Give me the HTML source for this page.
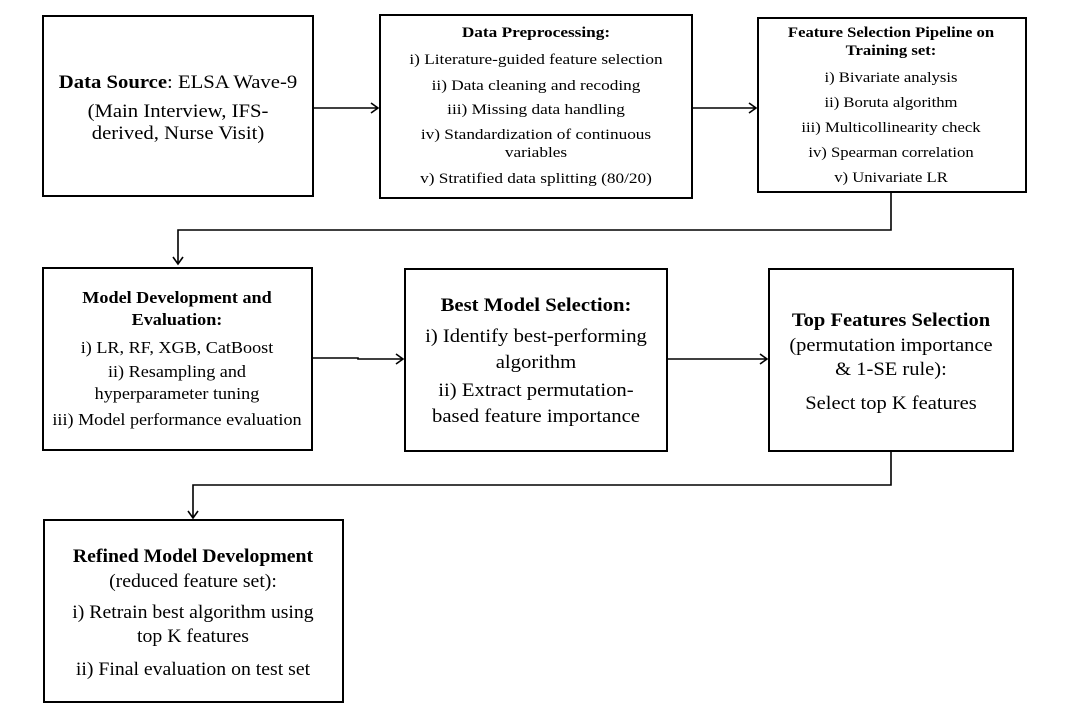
<!DOCTYPE html>
<html><head><meta charset="utf-8"><style>
html,body{margin:0;padding:0;background:#fff;}
svg{display:block;}
text{font-family:"Liberation Serif",serif;fill:#000;text-anchor:middle;}
.b{font-weight:bold;}
</style></head><body>
<svg width="1085" height="720" viewBox="0 0 1085 720" xmlns="http://www.w3.org/2000/svg">
<g fill="none" stroke="#000" stroke-width="2">
<rect x="43" y="16" width="270" height="180"/>
<rect x="380" y="15" width="312" height="183"/>
<rect x="758" y="18" width="268" height="174"/>
<rect x="43" y="268" width="269" height="182"/>
<rect x="405" y="269" width="262" height="182"/>
<rect x="769" y="269" width="244" height="182"/>
<rect x="44" y="520" width="299" height="182"/>
</g>
<g fill="none" stroke="#000" stroke-width="1.6">
<path d="M313 108 H377 M371 103 L378 108 L371 113"/>
<path d="M692 108 H755 M749 103 L756 108 L749 113"/>
<path d="M891 192 V230 H178 V263 M173 257 L178 264 L183 257"/>
<path d="M312 358 H358 V359 H402 M396 354 L403 359 L396 364"/>
<path d="M667 359 H766 M760 354 L767 359 L760 364"/>
<path d="M891 451 V485 H193 V517 M188 511 L193 518 L198 511"/>
</g>
<g transform="translate(178,0) scale(1.09,1) translate(-178,0)" font-size="19">
<text x="178" y="88"><tspan class="b">Data Source</tspan>: ELSA Wave-9</text>
<text x="178" y="117">(Main Interview, IFS-</text>
<text x="178" y="139">derived, Nurse Visit)</text>
</g>

<g transform="translate(536,0) scale(1.15,1) translate(-536,0)" font-size="15">
<text x="536" y="37" class="b">Data Preprocessing:</text>
<text x="536" y="64">i) Literature-guided feature selection</text>
<text x="536" y="90">ii) Data cleaning and recoding</text>
<text x="536" y="114">iii) Missing data handling</text>
<text x="536" y="139">iv) Standardization of continuous</text>
<text x="536" y="157">variables</text>
<text x="536" y="183">v) Stratified data splitting (80/20)</text>
</g>
<g transform="translate(891,0) scale(1.11,1) translate(-891,0)" font-size="15">
<text x="891" y="37" class="b">Feature Selection Pipeline on</text>
<text x="891" y="55" class="b">Training set:</text>
<text x="891" y="82">i) Bivariate analysis</text>
<text x="891" y="107">ii) Boruta algorithm</text>
<text x="891" y="132">iii) Multicollinearity check</text>
<text x="891" y="157">iv) Spearman correlation</text>
<text x="891" y="182">v) Univariate LR</text>
</g>

<g transform="translate(177,0) scale(1.1,1) translate(-177,0)">
<text x="177" y="303" font-size="16.5" class="b">Model Development and</text>
<text x="177" y="325" font-size="16.5" class="b">Evaluation:</text>
<g font-size="16.5">
<text x="177" y="353">i) LR, RF, XGB, CatBoost</text>
<text x="177" y="377">ii) Resampling and</text>
<text x="177" y="399">hyperparameter tuning</text>
<text x="177" y="425">iii) Model performance evaluation</text>
</g>
</g>

<g font-size="19">
<g transform="translate(536,0) scale(1.09,1) translate(-536,0)">
<text x="536" y="311" class="b">Best Model Selection:</text>
<text x="536" y="342">i) Identify best-performing</text>
<text x="536" y="368">algorithm</text>
<text x="536" y="396">ii) Extract permutation-</text>
<text x="536" y="422">based feature importance</text>
</g>
<g transform="translate(891,0) scale(1.08,1) translate(-891,0)">
<text x="891" y="326" class="b">Top Features Selection</text>
<text x="891" y="351">(permutation importance</text>
<text x="891" y="375">&amp; 1-SE rule):</text>
<text x="891" y="409">Select top K features</text>
</g>
<g transform="translate(193,0) scale(1.04,1) translate(-193,0)">
<text x="193" y="562" class="b">Refined Model Development</text>
<text x="193" y="587">(reduced feature set):</text>
<text x="193" y="618">i) Retrain best algorithm using</text>
<text x="193" y="642">top K features</text>
<text x="193" y="675">ii) Final evaluation on test set</text>
</g>
</g>
</svg>
</body></html>
